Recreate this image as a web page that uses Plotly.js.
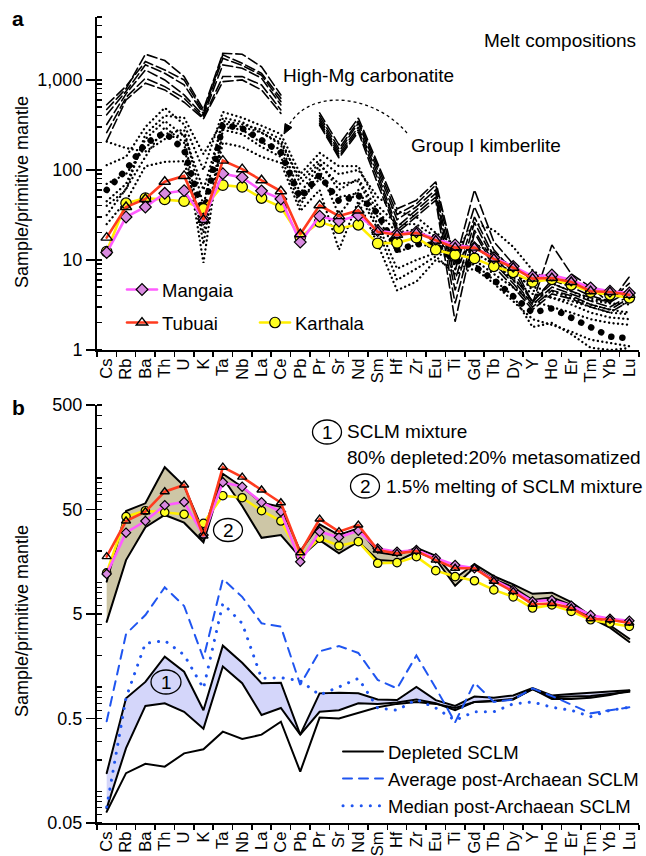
<!DOCTYPE html>
<html>
<head>
<meta charset="utf-8">
<script src="https://cdn.plot.ly/plotly-3.0.1.min.js"></script>
<style>
html,body{margin:0;padding:0;background:#fff;}
.js-line{stroke-linecap:round !important;}
</style>
</head>
<body>
<div id="chart" style="width:646px;height:856px;"></div>
<script>
// ---------------- DATA ----------------
const elements = ['Cs','Rb','Ba','Th','U','K','Ta','Nb','La','Ce','Pb','Pr','Sr','Nd','Sm','Hf','Zr','Eu','Ti','Gd','Tb','Dy','Y','Ho','Er','Tm','Yb','Lu'];

const mangaia  = [12.1, 30, 38.8, 55, 59, 28.5, 91, 82.7, 58.6, 47.6, 15.8, 30.7, 27.1, 31.3, 21.2, 19.7, 20.5, 17.1, 14.7, 13.7, 10.6, 8.5, 6.6, 6.8, 6.0, 4.9, 4.5, 4.3];
const tubuai   = [17.7, 38.8, 47.6, 74, 85.8, 27.9, 127, 102, 76.8, 58, 19.3, 40.5, 30.7, 35.5, 20.5, 19.0, 20, 16.4, 13.7, 13.7, 10.3, 8.2, 6.2, 6.3, 5.7, 4.5, 4.4, 4.1];
const karthala = [12.4, 42.7, 48.7, 47, 45, 36.9, 67.8, 64.8, 48.7, 38.8, 17.9, 26.5, 22.5, 24.6, 15.3, 15.5, 17.7, 13.0, 11.4, 10.4, 8.5, 7.3, 5.7, 6.1, 5.3, 4.4, 4.1, 3.8];

// High-Mg carbonatite (no Pb)
const carb1 = [470, 800, 1930, 1640, 1090, 470, 1980, 1930, 1400, 680, null, 430, 190, 378, 120, 37, 46, 74, 9.3, 60, 16, 9, 3.3, 14.7, 7, 5, 3.3, 6.5];
const carb2 = [530, 850, 1600, 1290, 1000, 440, 1900, 1530, 1186, 626, null, 400, 172, 350, 110, 32, 42, 68, 7.7, 39, 13, 7.5, 3.4, 6, 5, 4, 3.5, 5.5];
const carb3 = [410, 750, 1470, 1186, 880, 420, 1740, 1448, 1128, 575, null, 372, 160, 330, 100, 28, 39, 60, 6, 30, 11, 6.5, 3.5, 5.5, 4.5, 3.8, 3.4, 4.5];
const carb4 = [320, 700, 1290, 1000, 681, 400, 1470, 1350, 1045, 527, null, 350, 150, 300, 90, 23.4, 36, 55, 4.6, 26, 10, 6, 3.2, 5, 4.2, 3.5, 3, 4];
const carb5 = [260, 640, 1045, 843, 626, 380, 1090, 1089, 880, 464, null, 330, 142, 280, 80, 21.5, 33, 50, 3.3, 21.5, 9.3, 5.5, 3, 4.6, 4, 3.2, 2.8, 3.8];
const carb6 = [210, 600, 918, 774, 565, 370, 957, 1000, 774, 425, null, 316, 136, 264, 70, 20, 30, 46, 2.06, 20, 8.5, 5, 2.8, 4.2, 3.7, 3, 2.6, 3.5];

// Group I kimberlite
const kimb1 = [206, 175, 160, 220, 250, 60, 330, 300, 260, 200, 80, 130, 90, 100, 50, 35, 30, 20, 15, 14, 10, 7, 5, 4.5, 3.8, 3.2, 2.8, 2.6];
const kimb2 = [113, 140, 300, 490, 320, 100, 440, 380, 310, 250, 90, 155, 110, 110, 40, 25, 25, 18, 13, 12, 9, 6, 4.2, 3.8, 3.2, 2.6, 2.3, 2.2];
const kimb3 = [40, 60, 250, 400, 380, 150, 350, 320, 280, 220, 70, 120, 60, 80, 35, 20, 22, 16, 12, 25.8, 21.5, 14, 7.7, 5.5, 4.5, 3.6, 3.3, 3.2];
const kimb4 = [31.6, 62, 140, 300, 200, 9.3, 280, 250, 180, 140, 40, 100, 31.6, 60, 25, 8, 10, 12, 10, 15, 12, 8, 4.6, 3.8, 3.5, 3, 2.6, 2.5];
const kimb5 = [25, 45, 110, 123, 125, 20, 200, 180, 140, 120, 35, 60, 13, 45, 15, 4.6, 5.75, 10, 8, 9, 6, 4, 1.8, 2, 1.5, 1.06, 1.0, 1.05];
const kimb6 = [70, 90, 180, 250, 280, 40, 380, 340, 260, 190, 55, 113, 70, 75, 30, 12, 15, 14, 9, 10, 7, 5, 3.5, 3, 2.6, 2.2, 2, 1.9];
const kimb7 = [45, 70, 220, 350, 240, 15, 300, 280, 200, 170, 45, 80, 50, 55, 22, 6, 8, 11, 7, 8, 5.5, 3.5, 2.2, 1.9, 1.6, 1.3, 1.2, 1.1];
const kimbHeavy = [60, 100, 197, 260, 167, 32, 316, 290, 215, 155, 49, 88, 45, 52, 33, 13, 15, 14.7, 10, 8.5, 6, 3.9, 2.6, 2.9, 2.3, 1.8, 1.41, 1.35];

// Panel b: 1.5% melting of SCLM mixture (band)
const meltUpper = [10.2, 48.4, 57.3, 127, 84, 30.7, 110, 82, 58, 53, 20, 36, 28.5, 33, 19.5, 18.3, 21.5, 18, 11, 15, 11.5, 9.6, 7.8, 8.0, 6.5, 4.8, 3.9, 2.9];
const meltLower = [4.2, 16.4, 33.8, 44.3, 37.4, 24.3, 100, 54, 26.8, 28.5, 17.4, 25.5, 19.0, 24.6, 16.4, 16.0, 19.7, 16.8, 9.3, 14, 10.8, 9.0, 6.8, 7.2, 6.1, 4.6, 3.7, 2.7];
// SCLM mixture (band)
const mixUpper = [0.150, 0.78, 1.12, 1.95, 1.40, 0.60, 2.49, 1.71, 1.09, 1.10, 0.35, 0.87, 0.88, 0.87, 0.76, 0.75, 1.0, 0.75, 0.66, 0.81, 0.79, 0.83, 0.98, 0.83, 0.86, 0.88, 0.90, 0.93];
const mixLower = [0.069, 0.26, 0.66, 0.70, 0.58, 0.40, 1.57, 1.09, 0.54, 0.63, 0.35, 0.58, 0.60, 0.70, 0.69, 0.71, 0.76, 0.70, 0.60, 0.72, 0.74, 0.77, 0.95, 0.80, 0.81, 0.82, 0.86, 0.90];
const depleted = [0.064, 0.150, 0.184, 0.173, 0.232, 0.254, 0.374, 0.318, 0.35, 0.466, 0.155, 0.51, 0.50, 0.57, 0.64, 0.69, 0.72, 0.69, 0.63, 0.72, 0.73, 0.76, 0.96, 0.77, 0.77, 0.79, 0.84, 0.92];
const avgPostArch = [0.47, 3.22, 4.89, 9.0, 5.97, 1.88, 10.8, 7.3, 4.07, 3.78, 1.05, 2.2, 2.47, 2.12, 1.17, 0.97, 2.0, 0.98, 0.46, 1.10, 0.72, 0.76, 0.97, 0.82, 0.68, 0.56, 0.60, 0.64];
const medPostArch = [0.071, 0.79, 2.62, 2.78, 2.03, 0.97, 6.3, 4.07, 1.21, 1.23, 1.15, 0.84, 1.0, 1.21, 0.63, 0.60, 0.76, 0.63, 0.48, 0.58, 0.58, 0.69, 0.72, 0.64, 0.60, 0.52, 0.60, 0.64];

const topTickVals = [1, 10, 100, 1000];
const topTickText = ['1', '10', '100', '1,000'];
const botTickVals = [0.05, 0.5, 5, 50, 500];
const botTickText = ['0.05', '0.5', '5', '50', '500'];

// ---------------- STYLE ----------------
const FONT = 'Liberation Sans, Arial, Helvetica, sans-serif';
const W = 646, H = 856, ML = 97, MR = 7;
const PW = W - ML - MR;
const px = x => (x - ML) / PW;
const py = y => 1 - y / H;

const C_MAG = '#ff5cff', C_RED = '#ff3b1f', C_YEL = '#ffee00';
const C_BLUE = '#1f55f0';

function minorLog(lo, hi) {
  const out = [];
  for (let k = -3; k <= 4; k++) {
    for (let m = 1; m <= 9; m++) {
      const v = +(m * Math.pow(10, k)).toPrecision(3);
      if (v >= lo * 0.999 && v <= hi * 1.001) out.push(v);
    }
  }
  return out;
}

const traces = [];
function line(y, ax, opts) {
  return Object.assign({
    x: elements, y: y, xaxis: ax[0], yaxis: ax[1], type: 'scatter', mode: 'lines',
    showlegend: false, hoverinfo: 'skip', connectgaps: false
  }, opts);
}
const TOP = ['x', 'y'], BOT = ['x2', 'y2'];

// --- panel a: kimberlites
[kimb1, kimb2, kimb3, kimb4, kimb5, kimb6, kimb7].forEach(k => {
  traces.push(line(k, TOP, {line: {color: '#000', width: 2.3, dash: '0.1px,4.4px'}}));
});
traces.push(line(kimbHeavy, TOP, {line: {color: '#000', width: 6.5, dash: '0.1px,11px'}}));
// --- panel a: carbonatites
[carb1, carb2, carb3, carb4, carb5, carb6].forEach(c => {
  traces.push(line(c, TOP, {line: {color: '#000', width: 1.6, dash: '10px,4px'}}));
});

function samples(ax, big, legend) {
  const s = big ? 1 : 0.8;
  traces.push(line(karthala, ax, {
    name: 'Karthala', mode: 'lines+markers', showlegend: legend, legend: 'legend2', legendrank: 2,
    line: {color: C_YEL, width: 2.6},
    marker: {symbol: 'circle', size: 10.5 * s, color: '#ffff22', line: {color: '#000', width: 1.2}}
  }));
  traces.push(line(mangaia, ax, {
    name: 'Mangaia', mode: 'lines+markers', showlegend: legend, legend: 'legend',
    line: {color: C_MAG, width: 2.6},
    marker: {symbol: 'diamond', size: 9 * s, color: '#d98ae0', line: {color: '#000', width: 1.2}}
  }));
  traces.push(line(tubuai, ax, {
    name: 'Tubuai', mode: 'lines+markers', showlegend: legend, legend: 'legend2', legendrank: 1,
    line: {color: C_RED, width: 2.6},
    marker: {symbol: 'triangle-up-open', size: 10 * s, color: '#000', line: {color: '#000', width: 1.4}}
  }));
}
samples(TOP, true, true);

// --- panel b: bands
traces.push(line(meltLower, BOT, {line: {color: '#000', width: 2}}));
traces.push(line(meltUpper, BOT, {line: {color: '#000', width: 2}, fill: 'tonexty', fillcolor: '#cdc6a6'}));
traces.push(line(mixLower, BOT, {line: {color: '#000', width: 2}}));
traces.push(line(mixUpper, BOT, {line: {color: '#000', width: 2}, fill: 'tonexty', fillcolor: '#d4d6fa'}));
traces.push(line(depleted, BOT, {name: 'Depleted SCLM', showlegend: true, legend: 'legend3', line: {color: '#000', width: 2}}));
traces.push(line(avgPostArch, BOT, {name: 'Average post-Archaean SCLM', showlegend: true, legend: 'legend3', line: {color: C_BLUE, width: 2, dash: '9px,7px'}}));
traces.push(line(medPostArch, BOT, {name: 'Median post-Archaean SCLM', showlegend: true, legend: 'legend3', line: {color: C_BLUE, width: 3, dash: '0.1px,9px'}}));
samples(BOT, false, false);

// ---------------- LAYOUT ----------------
const xCommon = {
  type: 'category', categoryorder: 'array', categoryarray: elements, range: [-0.5, 27.5],
  tickmode: 'linear', tick0: 0, dtick: 1,
  tickson: 'boundaries', ticks: 'outside', ticklen: 5, tickwidth: 1.5, tickcolor: '#000',
  showline: true, linewidth: 2, linecolor: '#000', showgrid: false, zeroline: false,
  tickangle: -90, tickfont: {family: FONT, size: 16.5, color: '#000'}, fixedrange: true
};
const yCommon = {
  type: 'log', ticks: 'outside', ticklen: 9, tickwidth: 1.5, tickcolor: '#000',
  showline: true, linewidth: 2, linecolor: '#000', showgrid: false, zeroline: false,
  tickfont: {family: FONT, size: 18, color: '#000'}, tickmode: 'array', fixedrange: true
};

const layout = {
  width: W, height: H,
  margin: {l: ML, r: MR, t: 0, b: 0},
  paper_bgcolor: '#fff', plot_bgcolor: 'rgba(0,0,0,0)',
  font: {family: FONT, color: '#000'},
  hovermode: false,
  xaxis: Object.assign({}, xCommon, {anchor: 'y'}),
  xaxis2: Object.assign({}, xCommon, {anchor: 'y2'}),
  yaxis: Object.assign({}, yCommon, {
    domain: [py(350), py(17)], range: [0, Math.log10(5000)],
    tickvals: topTickVals, ticktext: topTickText,
    minor: {tickmode: 'array', tickvals: minorLog(1, 5000), ticks: 'inside', ticklen: 5, tickwidth: 1.2, tickcolor: '#000'}
  }),
  yaxis2: Object.assign({}, yCommon, {
    domain: [py(823), py(405)], range: [Math.log10(0.05), Math.log10(500)],
    tickvals: botTickVals, ticktext: botTickText,
    minor: {tickmode: 'array', tickvals: minorLog(0.05, 500), ticks: 'inside', ticklen: 5, tickwidth: 1.2, tickcolor: '#000'}
  }),
  legend: {x: px(122), y: py(290), xanchor: 'left', yanchor: 'middle', bgcolor: 'rgba(0,0,0,0)',
    font: {family: FONT, size: 18.5}, itemwidth: 30, orientation: 'v'},
  legend2: {x: px(122), y: py(323), xanchor: 'left', yanchor: 'middle', bgcolor: 'rgba(0,0,0,0)',
    font: {family: FONT, size: 18.5}, itemwidth: 30, orientation: 'h', entrywidth: 88, entrywidthmode: 'pixels'},
  legend3: {x: px(338), y: py(779), xanchor: 'left', yanchor: 'middle', bgcolor: 'rgba(0,0,0,0)',
    font: {family: FONT, size: 18.5}, itemwidth: 40, orientation: 'v', tracegroupgap: 0},
  annotations: [],
  shapes: []
};

function txt(text, x, y, opts) {
  layout.annotations.push(Object.assign({
    text: text, x: px(x), y: py(y), xref: 'paper', yref: 'paper', showarrow: false,
    xanchor: 'left', yanchor: 'middle', font: {family: FONT, size: 19, color: '#000'}
  }, opts || {}));
}
// panel letters
txt('<b>a</b>', 10, 18, {font: {family: FONT, size: 21, color: '#000'}});
txt('<b>b</b>', 10, 408, {font: {family: FONT, size: 21, color: '#000'}});
// axis titles
txt('Sample/primitive mantle', 22, 192, {xanchor: 'center', textangle: -90, font: {family: FONT, size: 18, color: '#000'}});
txt('Sample/primitive mantle', 22, 621, {xanchor: 'center', textangle: -90, font: {family: FONT, size: 18, color: '#000'}});
// panel a labels
txt('Melt compositions', 638, 41, {xanchor: 'right'});
txt('High-Mg carbonatite', 281, 75);
txt('Group I kimberlite', 409, 146);
// panel b labels
txt('SCLM mixture', 345, 432);
txt('80% depleted:20% metasomatized', 345, 457);
txt('1.5% melting of SCLM mixture', 384, 486);

function circ(cx, cy, label, w, h) {
  layout.shapes.push({type: 'circle', xref: 'paper', yref: 'paper',
    x0: px(cx - w / 2), x1: px(cx + w / 2), y0: py(cy + h / 2), y1: py(cy - h / 2),
    line: {color: '#000', width: 1.3}, fillcolor: 'rgba(0,0,0,0)'});
  txt(label, cx, cy + 0.5, {xanchor: 'center'});
}
circ(327, 432, '1', 29, 24);
circ(365, 486, '2', 29, 24);
circ(228, 530, '2', 29, 23);
circ(166, 682, '1', 30, 24);

// dotted curved arrow from label to kimberlites
const P = (x, y) => px(x) + ',' + py(y);
layout.shapes.push({type: 'path', xref: 'paper', yref: 'paper',
  path: 'M' + P(407, 133) + ' C' + P(376, 96) + ' ' + P(312, 86) + ' ' + P(289, 125),
  line: {color: '#000', width: 1.3, dash: 'dot'}});
layout.shapes.push({type: 'path', xref: 'paper', yref: 'paper',
  path: 'M' + P(284, 134) + ' L' + P(292, 127.5) + ' L' + P(285, 123.5) + ' Z',
  line: {color: '#000', width: 1}, fillcolor: '#000'});

Plotly.newPlot('chart', traces, layout, {displayModeBar: false, staticPlot: true});
</script>
</body>
</html>
